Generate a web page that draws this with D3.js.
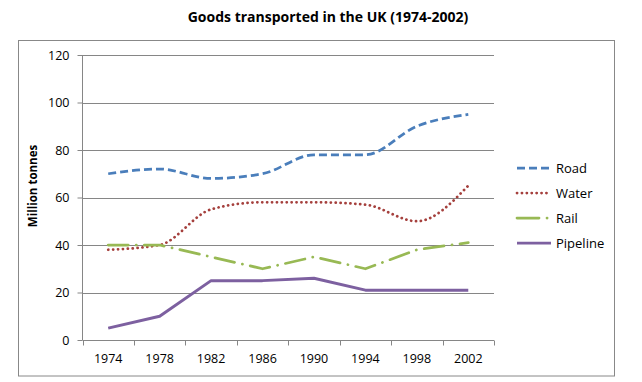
<!DOCTYPE html>
<html><head><meta charset="utf-8">
<script src="https://cdn.jsdelivr.net/npm/d3@7"></script>
<style>body{margin:0;background:#fff;} text{font-family:"Open Sans","Noto Sans",sans-serif;}</style>
</head><body>
<svg id="c" width="642" height="382"></svg>
<script>
const years = ["1974","1978","1982","1986","1990","1994","1998","2002"];
const road = [70, 72, 68, 70, 78, 78, 90, 95];
const water = [38, 40, 55, 58, 58, 57, 50, 65];
const rail = [40, 40, 35, 30, 35, 30, 38, 41];
const pipeline = [5, 10, 25, 25, 26, 21, 21, 21];
const yTicks = [0, 20, 40, 60, 80, 100, 120];
const seriesNames = ["Road", "Water", "Rail", "Pipeline"];

const styles = {
  Road: {color:"#4A7EBB", dash:"8,4", cap:"butt", curve:d3.curveMonotoneX},
  Water: {color:"#A5403D", dash:"0.1,4.8", cap:"round", curve:d3.curveMonotoneX},
  Rail: {color:"#98B954", dash:"20,8,0.1,8", cap:"round", curve:d3.curveLinear},
  Pipeline: {color:"#7D60A0", dash:null, cap:"butt", curve:d3.curveLinear}
};
const values = {Road: road, Water: water, Rail: rail, Pipeline: pipeline};

const svg = d3.select("#c");
svg.append("rect").attr("x",18.5).attr("y",40.5).attr("width",596).attr("height",335.5)
  .attr("fill","none").attr("stroke","#888").attr("stroke-width",1);

svg.append("text").attr("x",328).attr("y",22).attr("text-anchor","middle")
  .attr("font-size",14).attr("font-weight","bold").attr("fill","#000")
  .text("Goods transported in the UK (1974-2002)");

const x = d3.scaleBand().domain(years).range([82.5, 494]);
const y = d3.scaleLinear().domain([0,120]).range([340, 55]);

svg.append("g").selectAll("line").data(yTicks.filter(d=>d>0)).join("line")
  .attr("x1",82.5).attr("x2",494).attr("y1",d=>Math.round(y(d))+0.5).attr("y2",d=>Math.round(y(d))+0.5)
  .attr("stroke","#868686").attr("stroke-width",1);

const ya = svg.append("g").attr("transform","translate(82.5,0)")
  .call(d3.axisLeft(y).tickValues(yTicks).tickSize(5).tickPadding(8).tickFormat(d3.format("d")));
ya.select(".domain").attr("stroke","#868686").attr("d","M0,55V340");
ya.selectAll(".tick line").attr("stroke","#868686");
ya.selectAll(".tick text").attr("font-size",12.5).attr("fill","#000")
  .attr("font-family","'Open Sans','Noto Sans',sans-serif");

const xa = svg.append("g").attr("transform","translate(0,340.5)")
  .call(d3.axisBottom(x).tickSize(0).tickPadding(14));
xa.select(".domain").attr("stroke","#868686").attr("d","M82.5,0H494");
xa.selectAll(".tick text").attr("font-size",12.5).attr("fill","#000")
  .attr("font-family","'Open Sans','Noto Sans',sans-serif");
svg.append("g").selectAll("line").data(years.concat(["end"])).join("line")
  .attr("x1",(d,i)=>Math.round(82.5 + i*x.step())+0.5).attr("x2",(d,i)=>Math.round(82.5 + i*x.step())+0.5)
  .attr("y1",340.5).attr("y2",345.5).attr("stroke","#868686");

svg.append("text").attr("transform","translate(37,186) rotate(-90)").attr("text-anchor","middle")
  .attr("font-size",11.5).attr("font-weight","bold").attr("fill","#000").text("Million tonnes");

const cx = d => x(d) + x.bandwidth()/2;
seriesNames.forEach(name => {
  const s = styles[name];
  const line = d3.line().x((d,i)=>cx(years[i])).y(d=>y(d)).curve(s.curve);
  svg.append("path").attr("d", line(values[name])).attr("fill","none")
    .attr("stroke", s.color).attr("stroke-width", name==="Pipeline"?3:2.75)
    .attr("stroke-dasharray", s.dash).attr("stroke-linecap", s.cap).attr("stroke-linejoin","round");
});

const lg = svg.append("g");
seriesNames.forEach((name,i) => {
  const s = styles[name];
  const ly = 168 + i*25;
  lg.append("line").attr("x1",517).attr("x2",551).attr("y1",ly).attr("y2",ly)
    .attr("stroke",s.color).attr("stroke-width",2.75)
    .attr("stroke-dasharray", name==="Rail" ? "22,8,0.1,8" : s.dash).attr("stroke-linecap", s.cap);
  lg.append("text").attr("x",556).attr("y",ly+4.5).attr("font-size",13).attr("fill","#000").text(name);
});
</script>
</body></html>
